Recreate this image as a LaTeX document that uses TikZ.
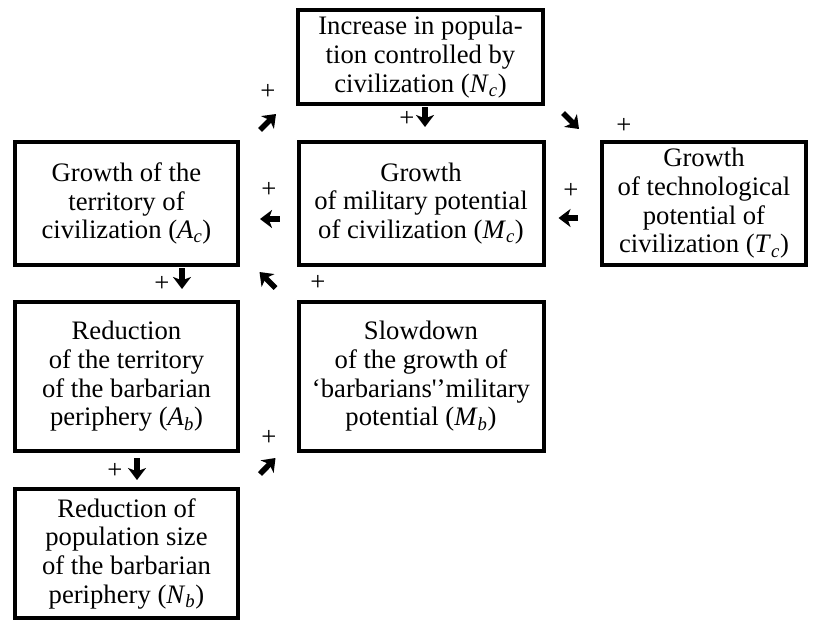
\documentclass[tikz,border=0pt]{standalone}
\usepackage{fontspec}
\setmainfont{Liberation Serif}
\usetikzlibrary{arrows.meta}
\newcommand{\varsub}[2]{\textit{#1}\textsubscript{\textit{#2}}}

\begin{document}
\begin{tikzpicture}[x=0.75pt, y=-0.75pt,
    box/.style={draw, line width=3pt, align=center, inner sep=0pt,
                font=\fontsize{20}{21.5}\selectfont},
    link/.style={line width=4.2pt, -{Stealth[length=9pt,width=13.5pt,inset=2.5pt]}},
    sign/.style={font=\fontsize{20}{22}\selectfont, inner sep=0pt}]
    \useasboundingbox (0,0) rectangle (813,621);
    % population of civilization
    \node[box, minimum width=183.75pt, minimum height=70.5pt] (Nc) at (420.5,57)
        {Increase in popula-\\tion controlled by\\civilization (\varsub{N}{c})};
    % middle row
    \node[box, minimum width=167.25pt, minimum height=92.25pt] (Ac) at (126.5,203.5)
        {Growth of the\\territory of\\civilization (\varsub{A}{c})};
    \node[box, minimum width=183.75pt, minimum height=92.25pt] (Mc) at (421,203.5)
        {Growth\\of military potential\\of civilization (\varsub{M}{c})};
    \node[box, minimum width=153pt, minimum height=92.25pt] (Tc) at (704,203.5)
        {Growth\\of technological\\potential of\\civilization (\varsub{T}{c})};
    % barbarian side
    \node[box, minimum width=167.25pt, minimum height=111.75pt] (Ab) at (126.5,376.5)
        {Reduction\\of the territory\\of the barbarian\\periphery (\varsub{A}{b})};
    \node[box, minimum width=183.75pt, minimum height=111.75pt] (Mb) at (421,376.5)
        {Slowdown\\of the growth of\\\textquoteleft barbarians\textquotesingle\textquoteright military\\potential (\varsub{M}{b})};
    \node[box, minimum width=167.25pt, minimum height=96.75pt] (Nb) at (126.5,553.5)
        {Reduction of\\population size\\of the barbarian\\periphery (\varsub{N}{b})};
    % links
    \draw[link] ([shift={(4.5,1)}]Nc.south) -- ([shift={(4,-13)}]Mc.north);
    \draw[link] ([shift={(20,-10)}]Ac.north east) -- ([shift={(-20,8)}]Nc.south west);
    \draw[link] ([shift={(18,7)}]Nc.south east) -- ([shift={(-21,-11)}]Tc.north west);
    \draw[link] ([shift={(-22,14.5)}]Tc.west) -- ([shift={(13,14.5)}]Mc.east);
    \draw[link] ([shift={(-17,15.5)}]Mc.west) -- ([shift={(20,15.5)}]Ac.east);
    \draw[link] ([shift={(55.5,1)}]Ac.south) -- ([shift={(55.5,-11)}]Ab.north);
    \draw[link] ([shift={(-21,-12)}]Mb.north west) -- ([shift={(-37,5)}]Mc.south west);
    \draw[link] ([shift={(10.5,5)}]Ab.south) -- ([shift={(10.5,-7)}]Nb.north);
    \draw[link] ([shift={(20,21)}]Ab.south east) -- ([shift={(-21,5)}]Mb.south west);
    % signs
    \node[sign] (s1) at (407,119) {+};
    \node[sign] (s2) at (268,92) {+};
    \node[sign] (s3) at (624,126) {+};
    \node[sign] (s4) at (571,191) {+};
    \node[sign] (s5) at (269,190) {+};
    \node[sign] (s6) at (162,284) {+};
    \node[sign] (s7) at (318,283) {+};
    \node[sign] (s8) at (115,471) {+};
    \node[sign] (s9) at (269,438) {+};
\end{tikzpicture}
\end{document}
